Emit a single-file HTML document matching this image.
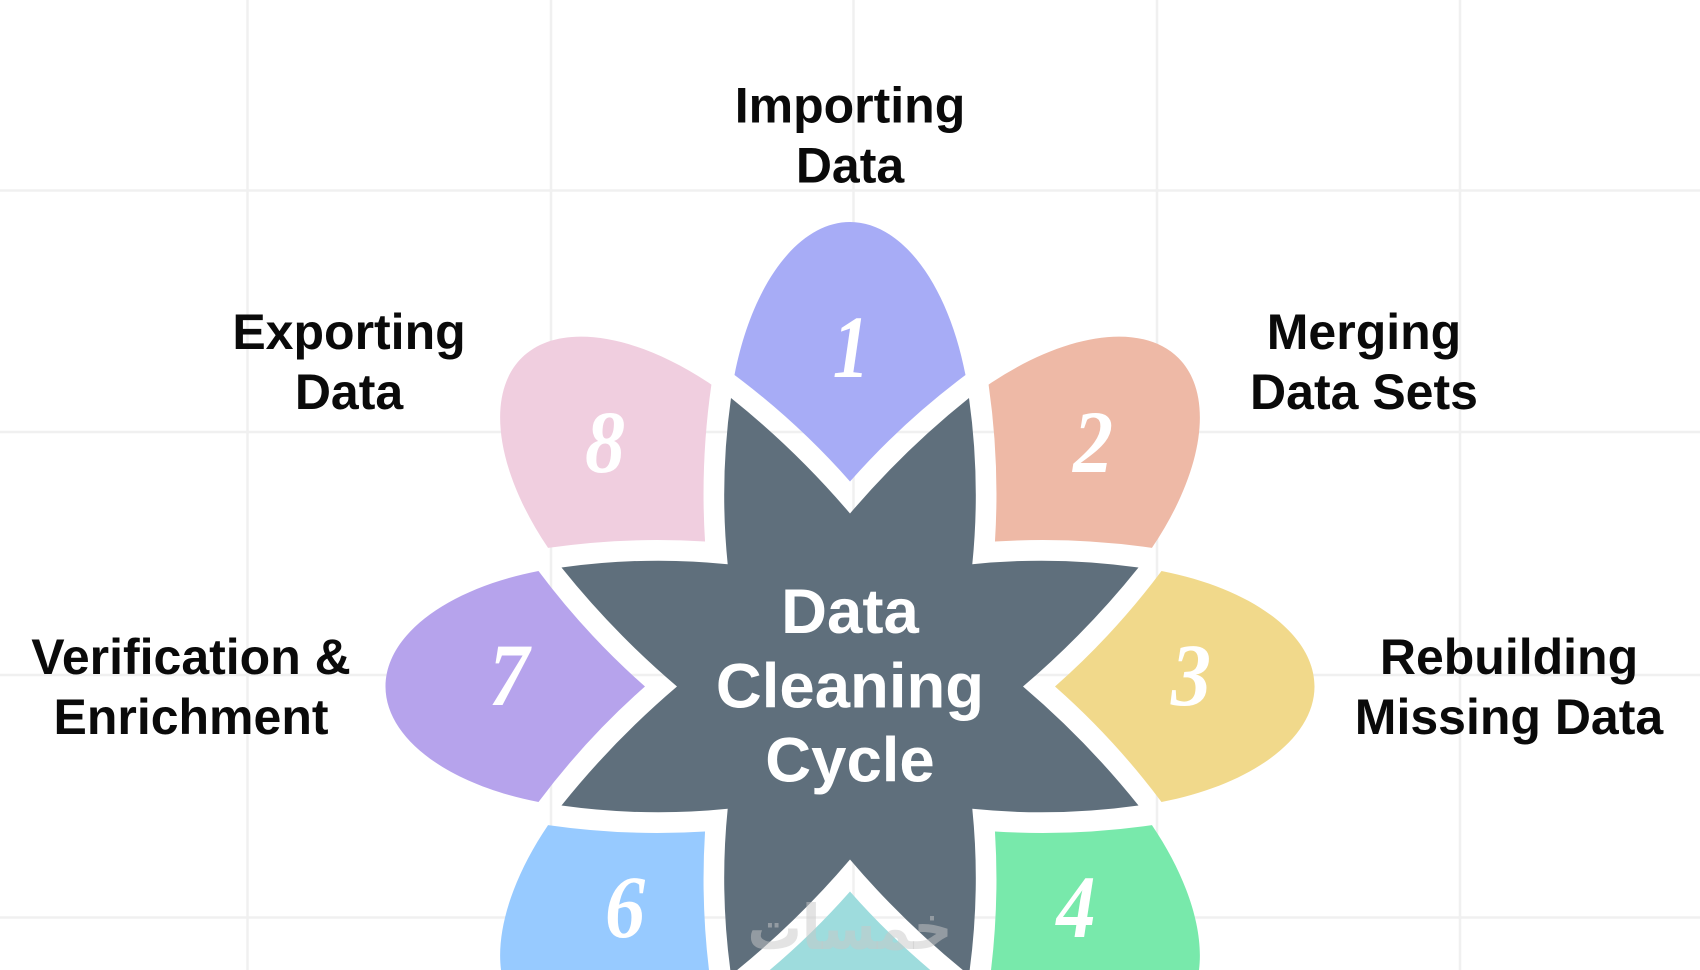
<!DOCTYPE html>
<html><head><meta charset="utf-8"><style>
html,body{margin:0;padding:0;background:#fff;width:1700px;height:970px;overflow:hidden}
svg{display:block}
.l{font:bold 50px "Liberation Sans",sans-serif;fill:#0a0a0a;text-anchor:middle}
.c{font:bold 63.500px "Liberation Sans",sans-serif;fill:#fff;text-anchor:middle}
.n{font:italic bold 89px "Liberation Serif",serif;fill:#fff;text-anchor:middle}
</style></head><body>
<svg width="1700" height="970" viewBox="0 0 1700 970" xmlns="http://www.w3.org/2000/svg">
<defs>
<clipPath id="f"><rect width="1700" height="970"/></clipPath>
<path id="p" d="M0,-205 Q52,-264 115.500,-311.500 C98,-402 52,-464.500 0,-464.500 C-52,-464.500 -98,-402 -115.500,-311.500 Q-52,-264 0,-205Z"/>
</defs>
<rect width="1700" height="970" fill="#fff"/>
<g stroke="#f0f0f0" stroke-width="2.500">
<path d="M247.500 0V970M551 0V970M853.500 0V970M1157 0V970M1460 0V970"/>
<path d="M0 190.500H1700M0 432H1700M0 675H1700M0 917.500H1700"/>
</g>
<g clip-path="url(#f)">
<g transform="translate(850 686.500)">
<use href="#p" fill="#a7acf6"/>
<use href="#p" fill="#eeb9a6" transform="rotate(45)"/>
<use href="#p" fill="#f1d98b" transform="rotate(90)"/>
<use href="#p" fill="#78e9ab" transform="rotate(135)"/>
<use href="#p" fill="#9edcdd" transform="rotate(180)"/>
<use href="#p" fill="#97caff" transform="rotate(225)"/>
<use href="#p" fill="#b6a3ec" transform="rotate(270)"/>
<use href="#p" fill="#f0cedf" transform="rotate(315)"/>
<path fill="#5f6f7c" d="M0,-173 Q54,-236.500 119,-288.500 Q130.700,-205 122.300,-122.300 Q205,-130.700 288.500,-119 Q236.500,-54 173,0 Q236.500,54 288.500,119 Q205,130.700 122.300,122.300 Q130.700,205 119,288.500 Q54,236.500 0,173 Q-54,236.500 -119,288.500 Q-130.700,205 -122.300,122.300 Q-205,130.700 -288.500,119 Q-236.500,54 -173,0 Q-236.500,-54 -288.500,-119 Q-205,-130.700 -122.300,-122.300 Q-130.700,-205 -119,-288.500 Q-54,-236.500 0,-173Z"/>
</g>
<text class="n" transform="translate(851 377) scale(.82 1)">1</text>
<text class="n" transform="translate(1093 472) scale(.9 1)">2</text>
<text class="n" transform="translate(1191 705) scale(.9 1)">3</text>
<text class="n" transform="translate(1076 937) scale(.88 1)">4</text>
<text class="n" transform="translate(625 937) scale(.9 1)">6</text>
<text class="n" transform="translate(509 705) scale(.9 1)">7</text>
<text class="n" transform="translate(605 472) scale(.9 1)">8</text>
<text x="850" y="949" text-anchor="middle" textLength="205" lengthAdjust="spacingAndGlyphs" style="font:bold 62px 'DejaVu Sans',sans-serif" fill="#c8c8c8" fill-opacity=".5">خمسات</text>
</g>
<text class="c" x="850" y="633">Data</text>
<text class="c" x="850" y="707.500">Cleaning</text>
<text class="c" x="850" y="781.500">Cycle</text>
<text class="l" x="850" y="122.500">Importing</text>
<text class="l" x="850" y="182.500">Data</text>
<text class="l" x="1364" y="349">Merging</text>
<text class="l" x="1364" y="409">Data Sets</text>
<text class="l" x="1509" y="674">Rebuilding</text>
<text class="l" x="1509" y="734">Missing Data</text>
<text class="l" x="191" y="674">Verification &amp;</text>
<text class="l" x="191" y="734">Enrichment</text>
<text class="l" x="349" y="349">Exporting</text>
<text class="l" x="349" y="409">Data</text>
</svg>
</body></html>
